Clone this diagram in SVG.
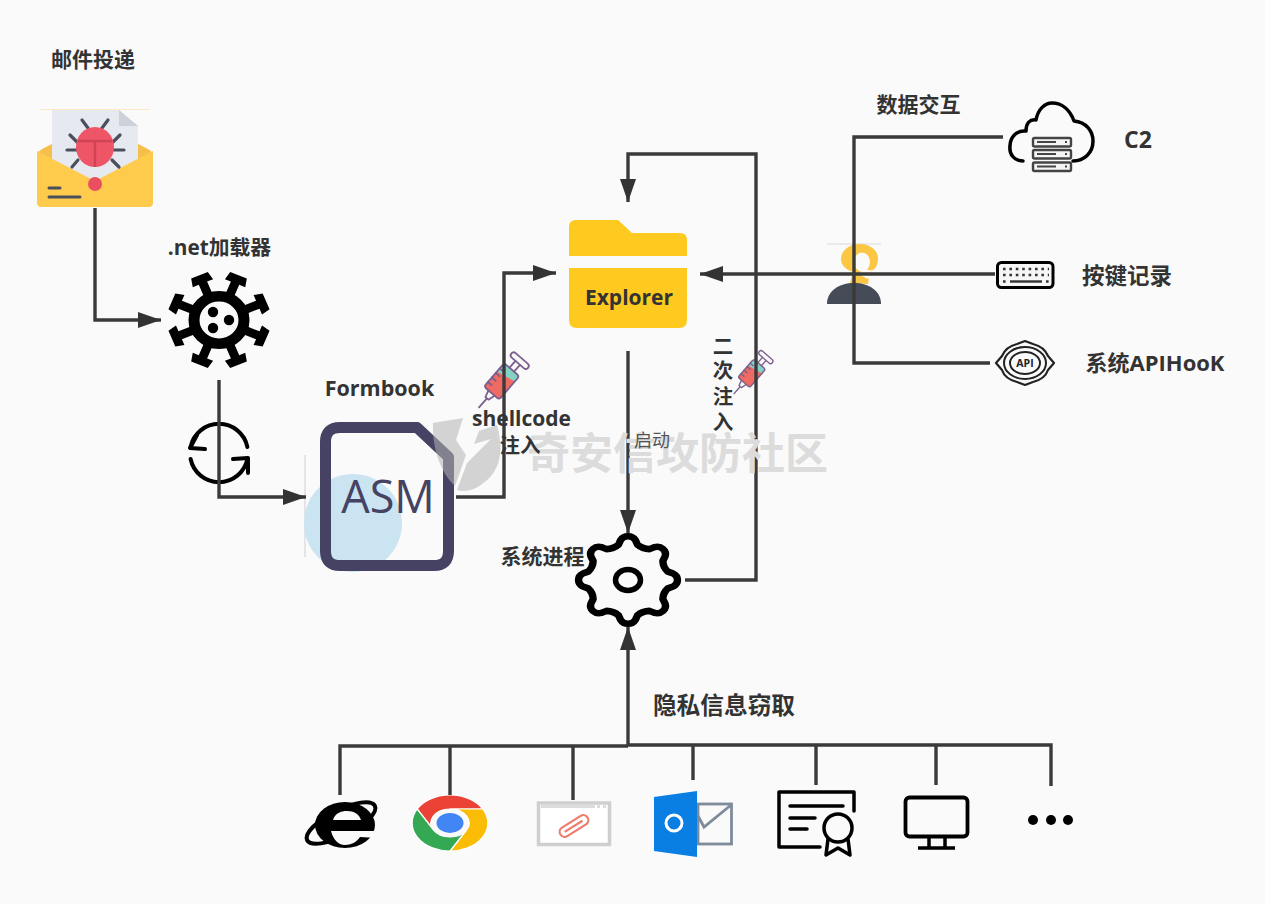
<svg xmlns="http://www.w3.org/2000/svg" xmlns:xlink="http://www.w3.org/1999/xlink" width="1265" height="904" viewBox="0 0 1265 904">
<style>
text{font-family:"Open Sans","Noto Sans CJK SC",sans-serif;fill:#333;font-weight:700}
.wire{fill:none;stroke:#3a3a3a;stroke-width:3.4}
.ink{fill:none;stroke:#000;stroke-linecap:round;stroke-linejoin:round}
.m{text-anchor:middle}
</style>
<defs>
<marker id="head" markerUnits="userSpaceOnUse" markerWidth="24" markerHeight="18" refX="23" refY="8" orient="auto"><path d="M0 0L23 8L0 16Z" fill="#333"/></marker>
<g id="syringe">
<rect x="-10" y="-15" width="20" height="31" rx="3" fill="#ef6a63"/>
<path d="M-10-4L10-8V-12Q10-15 7-15H-7Q-10-15-10-12Z" fill="#84d2c5"/>
<g fill="none" stroke="#7c5f8e" stroke-width="1.8" stroke-linejoin="round" stroke-linecap="round">
<rect x="-10" y="-15" width="20" height="31" rx="3"/>
<path d="M-4 16L-2 23H2L4 16M0 23V35M-3-15V-24M3-15V-24M-10-8H-5M-10-2H-5M-10 4H-5M-10 10H-5"/>
<rect x="-11" y="-30" width="22" height="6" rx="3"/>
</g>
</g>
<g id="spike"><path d="M-4.5-28H4.5V-42H11L9-51L-9-51L-11-42H-4.5Z" fill="#000"/></g>
<path id="chromePiece" d="M-32.9-19A38 38 0 0 1 32.9-19L0-19A19 19 0 0 0-16.45 9.5Z"/>
</defs>
<rect width="1265" height="904" fill="#fafafa"/>

<g id="mail">
<path d="M39 109.500H150" stroke="#fbeac4" stroke-width="1"/>
<path d="M37 156Q37 151 44 148L95 122L146 148Q153 151 153 156V202Q153 207 148 207H42Q37 207 37 202Z" fill="#f6bf4b"/>
<path d="M52 110H119L138 126V190H52Z" fill="#e6e9ef"/><path d="M119 110L138 126H119Z" fill="#cdd1da"/>
<path d="M37 151L95 181L153 151V202Q153 207 148 207H42Q37 207 37 202Z" fill="#ffcb4d"/>
<path d="M82 120L88 128M108 120L102 128M70 135L77 142M120 135L113 142M67 150H77M114 150H124M72 167L78 160M119 167L112 160" stroke="#4a4f5c" stroke-width="3.2" stroke-linecap="round"/>
<ellipse cx="95" cy="147" rx="19" ry="20" fill="#ee5566"/>
<path d="M78 141H112M95 141V167" stroke="#d04357" stroke-width="2.5" fill="none"/>
<circle cx="95" cy="184" r="7" fill="#e94f60"/>
<path d="M49 188H60M49 197H80" stroke="#4a4f5c" stroke-width="3" stroke-linecap="round"/>
<text x="93" y="67" class="m" font-size="21">邮件投递</text>
</g>

<g id="loader">
<g transform="translate(219 320) scale(1 .95)">
<circle r="25" fill="none" stroke="#000" stroke-width="11"/>
<use xlink:href="#spike" href="#spike" transform="rotate(22.5)"/><use xlink:href="#spike" href="#spike" transform="rotate(67.5)"/>
<use xlink:href="#spike" href="#spike" transform="rotate(112.5)"/><use xlink:href="#spike" href="#spike" transform="rotate(157.5)"/>
<use xlink:href="#spike" href="#spike" transform="rotate(202.5)"/><use xlink:href="#spike" href="#spike" transform="rotate(247.5)"/>
<use xlink:href="#spike" href="#spike" transform="rotate(292.5)"/><use xlink:href="#spike" href="#spike" transform="rotate(337.5)"/>
</g>
<circle cx="213" cy="312" r="5.2"/><circle cx="229" cy="320" r="5.2"/><circle cx="213" cy="328" r="5.2"/>
<text x="219.500" y="255" class="m" font-size="20.800">.net加载器</text>
</g>

<g id="sync">
<path class="ink" stroke-width="4" d="M190.600 447A29 29 0 0 1 247.400 447M247.400 459A29 29 0 0 1 190.600 459"/>
<path class="ink" stroke-width="4" d="M197 435L190 448L205 449M233 459L248 458L248 473"/>
</g>

<g id="formbook">
<path d="M305 455V557" stroke="#cfcfd6" stroke-width="1"/>
<circle cx="353" cy="523" r="49" fill="#cbe4f2"/>
<path d="M340 427.500H417L448.500 457V551Q448.500 565.500 434 565.500H340Q325.500 565.500 325.500 551V442Q325.500 427.500 340 427.500Z" fill="none" stroke="#454263" stroke-width="11" stroke-linejoin="round"/>
<text x="388" y="513" class="m" font-size="45" style="font-weight:500;fill:#454263">ASM</text>
<text x="379.500" y="396" class="m" font-size="21.500">Formbook</text>
</g>

<g id="explorer">
<path d="M569 256V227Q569 220 576 220H618L632 233H680Q687 233 687 240V256Z" fill="#ffca1f"/>
<path d="M569 268H687V320Q687 328 679 328H577Q569 328 569 320Z" fill="#ffca1f"/>
<text x="629" y="305" class="m" font-size="21">Explorer</text>
</g>

<use id="syringe-a" xlink:href="#syringe" href="#syringe" transform="translate(502 381) rotate(41)"/>
<use id="syringe-b" xlink:href="#syringe" href="#syringe" transform="translate(752 373) rotate(41) scale(.78)"/>

<g id="process">
<g transform="translate(628 580) scale(1.05 .93)">
<!-- eight rounded teeth with shallow valleys -->
<path class="ink" stroke-width="7" d="M-9-38L-7-43A8 8 0 0 1 7-43L9-38Q13.800-33.300 20.500-33.200L25.500-35.400A8 8 0 0 1 35.400-25.500L33.200-20.500Q33.300-13.800 38-9L43-7A8 8 0 0 1 43 7L38 9Q33.300 13.800 33.200 20.500L35.400 25.500A8 8 0 0 1 25.500 35.400L20.500 33.200Q13.800 33.300 9 38L7 43A8 8 0 0 1-7 43L-9 38Q-13.800 33.300-20.500 33.200L-25.500 35.400A8 8 0 0 1-35.400 25.500L-33.200 20.500Q-33.300 13.800-38 9L-43 7A8 8 0 0 1-43-7L-38-9Q-33.300-13.800-33.200-20.500L-35.400-25.500A8 8 0 0 1-25.500-35.400L-20.500-33.200Q-13.800-33.300-9-38Z"/>
</g>
<ellipse cx="628" cy="580" rx="12.500" ry="10.500" fill="none" stroke="#000" stroke-width="5.500"/>
<text x="542.500" y="564" class="m" font-size="21">系统进程</text>
</g>

<g id="c2">
<path class="ink" stroke-width="3.500" d="M1023 161C1014 161 1009 154 1010 146C1010 137 1017 130 1026 131C1026 123 1030 119 1036 120C1038 109 1045 103 1052 103C1062 103 1070 110 1074 121C1086 122 1093 131 1093 141C1093 153 1084 161 1073 161"/>
<g fill="#f4f4f4" stroke="#444" stroke-width="2.400"><rect x="1033" y="138" width="38" height="8.500" rx="1.500"/><rect x="1033" y="150" width="38" height="8.500" rx="1.500"/><rect x="1033" y="162.500" width="38" height="8.500" rx="1.500"/></g>
<path d="M1037 142H1056M1037 154H1056M1037 166.500H1056M1065 142H1067M1065 154H1067M1065 166.500H1067" stroke="#444" stroke-width="1.800"/>
<text x="1138" y="148" class="m" font-size="23">C2</text>
</g>

<g id="person">
<path d="M827 244H881" stroke="#d9d9de" stroke-width="1"/>
<path d="M850 283L853 272C846 270 841 265 841 259C841 250 850 244 860 244C871 244 878 251 878 258C878 266 875 270 870 271L868 284Z" fill="#fcc645"/>
<ellipse cx="862" cy="262" rx="8" ry="9.500" fill="#fafafa"/>
<path d="M862 268L876 272L868 279L860 275Z" fill="#fafafa"/>
<path d="M827 304C827 291 839 283 854 283C869 283 881 291 881 304Z" fill="#454b57"/>
</g>

<g id="keylog">
<rect x="997.500" y="262.500" width="55.500" height="25" rx="4" fill="#f6f6f6" stroke="#000" stroke-width="3"/>
<path d="M1003 269H1049M1003 275H1049M1003 281.500H1006M1046 281.500H1049" stroke="#333" stroke-width="2.400" stroke-dasharray="2.600 3.800" fill="none"/>
<path d="M1010 281.500H1042" stroke="#333" stroke-width="2.400"/>
<text x="1127" y="284" class="m" font-size="22.500">按键记录</text>
</g>

<g id="apihook">
<path fill="none" stroke="#222" stroke-width="2.200" stroke-linejoin="round" d="M1017 344L1025 341L1033 344C1041 346 1046 351 1048 356L1054 363L1048 370C1046 376 1041 380 1033 382L1025 385L1017 382C1009 380 1004 376 1002 370L996 363L1002 356C1004 351 1009 346 1017 344Z"/>
<ellipse cx="1025" cy="363" rx="21" ry="16" fill="none" stroke="#222" stroke-width="2"/>
<ellipse cx="1025" cy="363" rx="15" ry="11" fill="none" stroke="#222" stroke-width="2"/>
<text x="1025" y="367" class="m" font-size="10.500" style="fill:#222">API</text>
<text x="1155" y="371" class="m" font-size="22">系统APIHooK</text>
</g>

<g id="ie">
<ellipse cx="341" cy="823" rx="38" ry="13" fill="none" stroke="#000" stroke-width="4" transform="rotate(-27 341 823)"/>
<ellipse cx="345" cy="825" rx="30" ry="23"/>
<path d="M333 820C335 813 341 811 347 811C354 811 359 814 361 820Z" fill="#fafafa"/>
<path d="M331 831H377V838L360 837C357 842 351 845 345 845C338 845 333 839 331 831Z" fill="#fafafa"/>
</g>

<g id="chrome" transform="translate(450 823) scale(1 .74)" stroke="#fff" stroke-width="1.500">
<use xlink:href="#chromePiece" href="#chromePiece" fill="#ea4335"/>
<use xlink:href="#chromePiece" href="#chromePiece" fill="#fbbc05" transform="rotate(120)"/>
<use xlink:href="#chromePiece" href="#chromePiece" fill="#34a853" transform="rotate(-120)"/>
<circle r="13.500" fill="#4285f4" stroke="none"/>
</g>

<g id="attachment">
<rect x="538.500" y="803" width="71" height="41.500" fill="#fff" stroke="#cfcfcf" stroke-width="3.500"/>
<path d="M541 806.500H595M597 806.500H600M603 806.500H606" stroke="#dcdcdc" stroke-width="3"/>
<g fill="none" stroke="#ee7b6d" stroke-width="2.200" transform="rotate(-32 574 826)"><rect x="558" y="821" width="32" height="10" rx="5"/><path d="M563 826H584"/></g>
</g>

<g id="outlook">
<rect x="698" y="804" width="33.500" height="40" fill="none" stroke="#7e8b9b" stroke-width="2.800"/>
<path d="M698 816L704 827L731 805" fill="none" stroke="#7e8b9b" stroke-width="2.800"/>
<path d="M654 797L697 791V857L654 851Z" fill="#0a7fe3"/>
<circle cx="674" cy="823" r="8" fill="none" stroke="#fff" stroke-width="3"/>
</g>

<g id="certificate">
<path class="ink" stroke-width="3.500" d="M854 811V792H779V847H820M790 806H843M790 818H815M790 829H807M828 839L826 855L838 848L850 855L848 839"/>
<circle cx="838" cy="828" r="14" fill="none" stroke="#000" stroke-width="3.500"/>
</g>

<g id="monitor">
<rect x="905.500" y="797.500" width="62" height="39" rx="4" fill="none" stroke="#000" stroke-width="3.800"/>
<path d="M929 837V848M945 837V848M918 848H955" fill="none" stroke="#000" stroke-width="3.500"/>
</g>

<g id="more"><circle cx="1033" cy="820" r="5"/><circle cx="1051" cy="820" r="5"/><circle cx="1068" cy="820" r="5"/></g>

<g id="connectors">
<path class="wire" d="M95 208V320H161" marker-end="url(#head)"/>
<path class="wire" d="M219 380V497H306" marker-end="url(#head)"/>
<path class="wire" d="M456 497H504V273H556" marker-end="url(#head)"/>
<path class="wire" d="M995 274H700" marker-end="url(#head)"/>
<path class="wire" d="M685 580H756V154H628V202" marker-end="url(#head)"/>
<path class="wire" d="M628 351V533" marker-end="url(#head)"/>
<path class="wire" d="M628 746V627" marker-end="url(#head)"/>
<path class="wire" d="M1003 137H854V363H990"/>
<path class="wire" d="M340 795V746H628M628 745H1051V786M450 746V795M573 746V800M693 745V780M816 745V785M936 745V785"/>
</g>

<!-- site mark: translucent flame above the artwork, wordmark beneath the labels -->
<g id="brand">
<g fill="#b5b5b5" opacity=".55">
<path d="M433 423L463 418L456 440L466 455L455 486C440 472 432 447 433 423Z"/>
<path d="M497 425C503 447 503 470 482 484C473 491 465 492 457 490L467 463L491 439L474 444L479 431Z"/>
</g>
<text x="527" y="469" font-size="43" style="fill:#dcdcdc">奇安信攻防社区</text>
</g>

<g id="labels">
<text x="521.500" y="426" class="m" font-size="21">shellcode</text>
<text x="520" y="453" class="m" font-size="20.500">注入</text>
<text x="723" y="354" class="m" font-size="20.500">二</text>
<text x="723" y="378" class="m" font-size="20.500">次</text>
<text x="723" y="404" class="m" font-size="20.500">注</text>
<text x="723" y="430" class="m" font-size="20.500">入</text>
<text x="652" y="447" class="m" font-size="18" style="font-weight:400;fill:#555">启动</text>
<text x="918.500" y="112" class="m" font-size="21">数据交互</text>
<text x="724" y="714" class="m" font-size="23.700">隐私信息窃取</text>
</g>
</svg>
